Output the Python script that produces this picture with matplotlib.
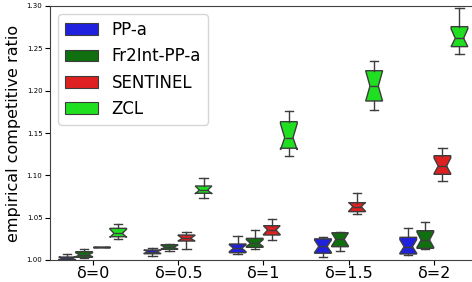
import matplotlib
matplotlib.use("Agg")
import matplotlib.pyplot as plt
from matplotlib.patches import Patch

categories = ["δ=0", "δ=0.5", "δ=1", "δ=1.5", "δ=2"]
series = ["PP-a", "Fr2Int-PP-a", "SENTINEL", "ZCL"]
colors = ["#2020df", "#107010", "#df2020", "#20df20"]

# box statistics per series, one value per category
med = {
    "PP-a":        [1.0020, 1.0098, 1.0138, 1.0160, 1.0157],
    "Fr2Int-PP-a": [1.0060, 1.0150, 1.0197, 1.0244, 1.0236],
    "SENTINEL":    [1.0155, 1.0256, 1.0354, 1.0630, 1.1110],
    "ZCL":         [1.0315, 1.0827, 1.1445, 1.2055, 1.2619],
}
q1 = {
    "PP-a":        [1.0000, 1.0074, 1.0086, 1.0080, 1.0071],
    "Fr2Int-PP-a": [1.0032, 1.0126, 1.0150, 1.0157, 1.0138],
    "SENTINEL":    [1.0155, 1.0224, 1.0295, 1.0571, 1.1012],
    "ZCL":         [1.0275, 1.0788, 1.1320, 1.1878, 1.2520],
}
q3 = {
    "PP-a":        [1.0035, 1.0118, 1.0189, 1.0250, 1.0268],
    "Fr2Int-PP-a": [1.0098, 1.0180, 1.0256, 1.0322, 1.0346],
    "SENTINEL":    [1.0155, 1.0295, 1.0405, 1.0677, 1.1232],
    "ZCL":         [1.0374, 1.0874, 1.1634, 1.2236, 1.2756],
}
whislo = {
    "PP-a":        [1.0000, 1.0047, 1.0067, 1.0032, 1.0055],
    "Fr2Int-PP-a": [1.0020, 1.0106, 1.0126, 1.0106, 1.0126],
    "SENTINEL":    [1.0155, 1.0130, 1.0236, 1.0543, 1.0933],
    "ZCL":         [1.0244, 1.0729, 1.1232, 1.1772, 1.2430],
}
whishi = {
    "PP-a":        [1.0065, 1.0138, 1.0287, 1.0268, 1.0374],
    "Fr2Int-PP-a": [1.0130, 1.0189, 1.0354, 1.0334, 1.0453],
    "SENTINEL":    [1.0155, 1.0334, 1.0484, 1.0795, 1.1319],
    "ZCL":         [1.0425, 1.0972, 1.1760, 1.2354, 1.2973],
}
notch_lo = {
    "PP-a":        [1.0005, 1.0078, 1.0098, 1.0090, 1.0080],
    "Fr2Int-PP-a": [1.0040, 1.0128, 1.0160, 1.0165, 1.0150],
    "SENTINEL":    [1.0155, 1.0225, 1.0300, 1.0575, 1.1020],
    "ZCL":         [1.0268, 1.0780, 1.1300, 1.1880, 1.2520],
}
notch_hi = {
    "PP-a":        [1.0035, 1.0116, 1.0180, 1.0235, 1.0240],
    "Fr2Int-PP-a": [1.0085, 1.0175, 1.0240, 1.0322, 1.0330],
    "SENTINEL":    [1.0155, 1.0290, 1.0405, 1.0680, 1.1205],
    "ZCL":         [1.0365, 1.0874, 1.1610, 1.2230, 1.2730],
}

yticks = [1.00, 1.05, 1.10, 1.15, 1.20, 1.25, 1.30]

W, H = 472, 282
fig = plt.figure(figsize=(W / 100, H / 100), dpi=100)
ax = fig.add_axes([50 / W, 22 / H, 426.5 / W, 254 / H])

edge = "#3d3d3d"
n = len(series)
slot = 0.8 / n
for j, s in enumerate(series):
    stats = []
    for i in range(len(categories)):
        stats.append(dict(med=med[s][i], q1=q1[s][i], q3=q3[s][i],
                          whislo=whislo[s][i], whishi=whishi[s][i],
                          cilo=notch_lo[s][i], cihi=notch_hi[s][i], fliers=[]))
    pos = [i - 0.4 + slot * (j + 0.5) for i in range(len(categories))]
    ax.bxp(stats, positions=pos, widths=slot * 0.98, shownotches=True,
           patch_artist=True, showfliers=False, manage_ticks=False,
           boxprops=dict(facecolor=colors[j], edgecolor=edge, linewidth=1.0),
           medianprops=dict(color=edge, linewidth=1.0),
           whiskerprops=dict(color=edge, linewidth=1.0),
           capprops=dict(color=edge, linewidth=1.0))

ax.set_xlim(-0.5, len(categories) - 0.5)
ax.set_ylim(1.0, 1.3)
ax.set_xticks(range(len(categories)))
ax.set_xticklabels(categories, fontsize=11.5)
ax.set_yticks(yticks)
ax.set_yticklabels([f"{v:.2f}" for v in yticks], fontsize=5)
ax.tick_params(axis="y", length=3.5, width=0.8, pad=2)
ax.tick_params(axis="x", length=3.5, width=0.8, pad=1)
ax.set_ylabel("empirical competitive ratio", fontsize=11.5, labelpad=4)
for sp in ax.spines.values():
    sp.set_color("#404040")

handles = [Patch(facecolor=c, edgecolor=edge, linewidth=0.8) for c in colors]
ax.legend(handles, series, loc="upper left", fontsize=12)

fig.savefig("out.png", dpi=100)
